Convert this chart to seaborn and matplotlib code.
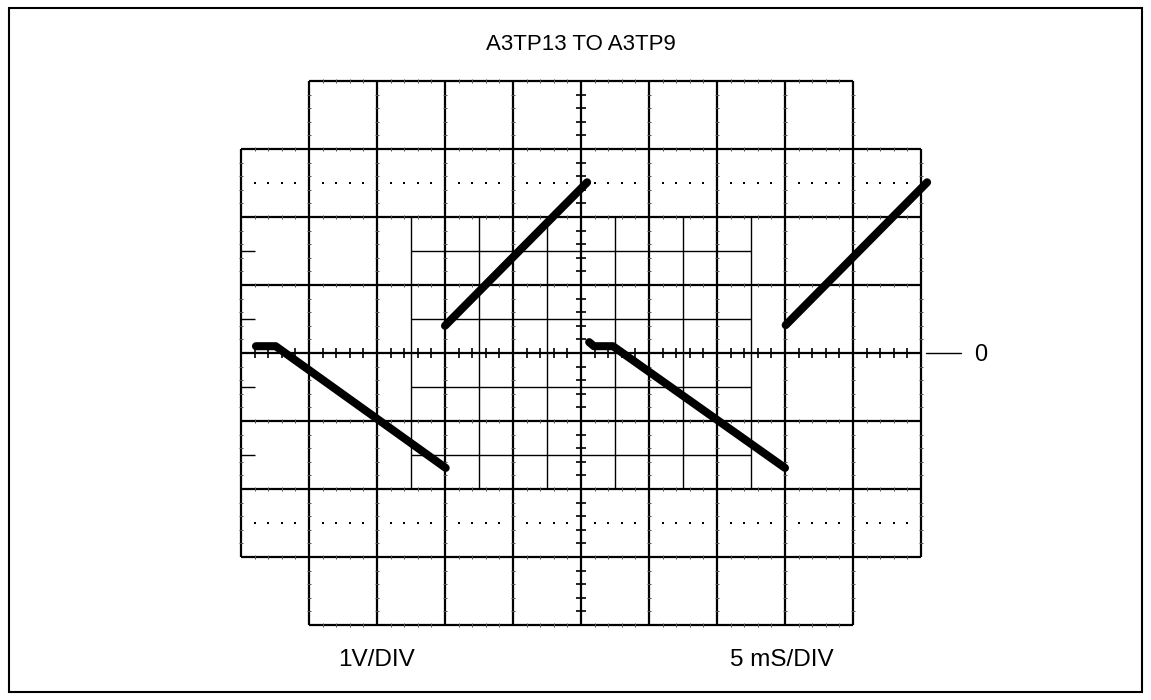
import numpy as np
import pandas as pd
import matplotlib
matplotlib.use("Agg")
import matplotlib.pyplot as plt
from matplotlib.collections import LineCollection
from matplotlib.patches import Rectangle
import seaborn as sns

# ---- labels ----
TITLE = "A3TP13 TO A3TP9"
VOLT_LABEL = "1V/DIV"
TIME_LABEL = "5 mS/DIV"
ZERO_LABEL = "0"

# ---- scope settings ----
MS_PER_DIV = 5.0
V_PER_DIV = 1.0
T_CENTER = 25.0          # ms at screen centre

# ---- trace samples (time in ms, level in volts) ----
seg_a_t = [1.1, 2.55, 15.05]
seg_a_v = [0.10, 0.10, -1.69]
seg_b_t = [15.0, 25.45]
seg_b_v = [0.40, 2.51]
seg_c_t = [25.6, 25.95, 27.35, 40.0]
seg_c_v = [0.16, 0.10, 0.10, -1.69]
seg_d_t = [40.05, 50.45]
seg_d_v = [0.41, 2.51]

sns.set_theme(style="white")
plt.rcParams["font.family"] = ["Liberation Sans", "DejaVu Sans"]
plt.rcParams["text.color"] = "black"

W, H = 1151, 700
PX_DIV = 68.0
CX, CY = 581.0, 353.0

fig = plt.figure(figsize=(W / 100, H / 100), dpi=100)
ax = fig.add_axes([0, 0, 1, 1])
ax.set_xlim(T_CENTER + MS_PER_DIV * (0 - CX) / PX_DIV,
            T_CENTER + MS_PER_DIV * (W - CX) / PX_DIV)
ax.set_ylim(V_PER_DIV * (CY - H) / PX_DIV, V_PER_DIV * CY / PX_DIV)
ax.axis("off")


def tx(d):
    return T_CENTER + d * MS_PER_DIV


def vy(d):
    return d * V_PER_DIV


main, sub, fine, axis_ticks = [], [], [], []

# main graticule lines (stepped outline: outer columns/rows are shorter)
for i in range(-5, 6):
    e = 3 if abs(i) == 5 else 4
    main.append([(tx(i), vy(-e)), (tx(i), vy(e))])
    for k in range(-5 * e, 5 * e + 1):
        if k % 5 == 0:
            continue
        y = k / 5
        if i == 0:
            axis_ticks.append([(tx(-0.08), vy(y)), (tx(0.08), vy(y))])
        else:
            fine.append([(tx(i - 0.03), vy(y)), (tx(i + 0.03), vy(y))])
for j in range(-4, 5):
    e = 4 if abs(j) == 4 else 5
    main.append([(tx(-e), vy(j)), (tx(e), vy(j))])
    for k in range(-5 * e, 5 * e + 1):
        if k % 5 == 0:
            continue
        x = k / 5
        if j == 0:
            axis_ticks.append([(tx(x), vy(-0.07)), (tx(x), vy(0.07))])
        else:
            fine.append([(tx(x), vy(j - 0.03)), (tx(x), vy(j + 0.03))])

# half-division grid in the central area
for i in [-2.5, -1.5, -0.5, 0.5, 1.5, 2.5]:
    sub.append([(tx(i), vy(-2)), (tx(i), vy(2))])
for j in [-1.5, -0.5, 0.5, 1.5]:
    sub.append([(tx(-2.5), vy(j)), (tx(2.5), vy(j))])
# short half-division marks on the left edge
for j in [-1.5, -0.5, 0.5, 1.5]:
    sub.append([(tx(-5), vy(j)), (tx(-4.8), vy(j))])

ax.add_collection(LineCollection(main, colors="black", linewidths=1.6))
ax.add_collection(LineCollection(sub, colors="black", linewidths=1.0))
ax.add_collection(LineCollection(fine, colors="#555555", linewidths=0.7))
ax.add_collection(LineCollection(axis_ticks, colors="black", linewidths=1.2))

# dotted rows
dx = [k / 5 for k in range(-25, 26) if k % 5 != 0]
for row in (2.5, -2.5):
    ax.scatter([tx(x) for x in dx], [vy(row)] * len(dx), s=2.5,
               marker="s", color="black", linewidths=0, zorder=3)

# zero-level reference mark
ax.plot([tx(5.07), tx(5.59)], [0, 0], color="black", lw=1.0)
ax.text(tx(5.88), -0.03, ZERO_LABEL, ha="center", va="center", fontsize=17,
        color="black")

# trace
frames = []
for name, t, v in [("a", seg_a_t, seg_a_v), ("b", seg_b_t, seg_b_v),
                   ("c", seg_c_t, seg_c_v), ("d", seg_d_t, seg_d_v)]:
    frames.append(pd.DataFrame({"time_ms": t, "volts": v, "segment": name}))
trace = pd.concat(frames, ignore_index=True)
sns.lineplot(data=trace, x="time_ms", y="volts", units="segment",
             estimator=None, sort=False, color="black", linewidth=5.8,
             solid_capstyle="round", solid_joinstyle="round", ax=ax,
             legend=False, zorder=5)
ax.set_xlabel("")
ax.set_ylabel("")

# texts
ax.text(tx(0), vy((CY - 45) / PX_DIV), TITLE, ha="center", va="center",
        fontsize=16, color="black")
ax.text(tx(-3), vy((CY - 660) / PX_DIV), VOLT_LABEL, ha="center",
        va="center", fontsize=17.5, color="black")
ax.text(tx(2.96), vy((CY - 660) / PX_DIV), TIME_LABEL, ha="center",
        va="center", fontsize=17.5, color="black")

# frame around the whole panel
fig.add_artist(Rectangle((9 / W, 8 / H), (1142 - 9) / W, (692 - 8) / H,
                         transform=fig.transFigure, fill=False,
                         edgecolor="black", linewidth=1.5))

fig.savefig("out.png", dpi=100, facecolor="white")
